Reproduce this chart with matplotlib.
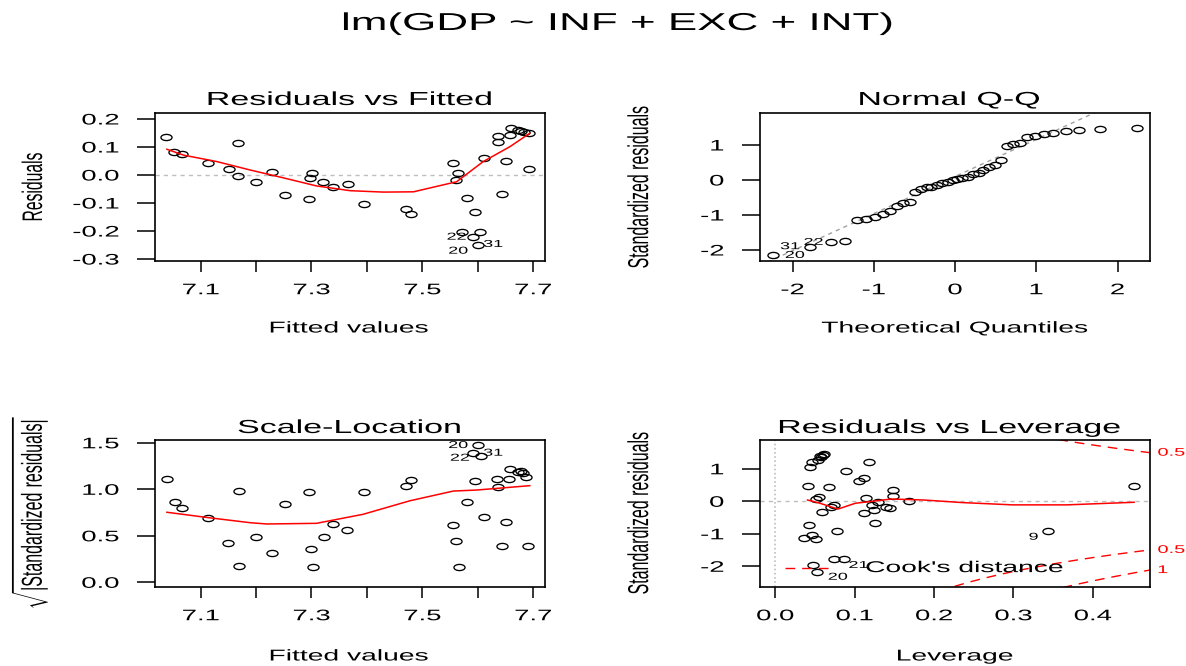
import numpy as np
import matplotlib
matplotlib.use("Agg")
import matplotlib.pyplot as plt
from matplotlib.patheffects import AbstractPathEffect
from matplotlib.transforms import Affine2D
from matplotlib.path import Path

# ---- data ----
# Residuals vs Fitted
fitted = [7.037, 7.052, 7.066, 7.114, 7.151, 7.168, 7.168, 7.200, 7.228, 7.252,
          7.295, 7.301, 7.298, 7.321, 7.338, 7.365, 7.395, 7.470, 7.480, 7.556,
          7.565, 7.561, 7.580, 7.596, 7.572, 7.592, 7.604, 7.600, 7.612, 7.636,
          7.636, 7.652, 7.644, 7.658, 7.660, 7.672, 7.678, 7.684, 7.693, 7.693]
resid = [0.137, 0.083, 0.074, 0.042, 0.020, 0.113, -0.002, -0.024, 0.011, -0.071,
         -0.086, 0.008, -0.011, -0.025, -0.042, -0.033, -0.102, -0.120, -0.138, 0.042,
         0.008, -0.019, -0.081, -0.133, -0.205, -0.223, -0.205, -0.251, 0.060, 0.140,
         0.119, 0.050, -0.069, 0.143, 0.167, 0.161, 0.158, 0.155, 0.151, 0.020]
smooth1_x = [7.039, 7.069, 7.129, 7.189, 7.249, 7.309, 7.370, 7.430, 7.484, 7.562,
             7.586, 7.610, 7.658, 7.694]
smooth1_y = [0.092, 0.071, 0.048, 0.018, -0.010, -0.039, -0.056, -0.061, -0.060, -0.024,
             0.012, 0.048, 0.101, 0.149]
ids1 = ["22", "20", "31"]
ids1_x = [7.562, 7.565, 7.628]
ids1_y = [-0.220, -0.270, -0.246]

# Normal Q-Q
theo = [-2.24, -1.78, -1.53, -1.36, -1.21, -1.09, -0.98, -0.89, -0.80, -0.71,
        -0.64, -0.56, -0.49, -0.42, -0.35, -0.29, -0.22, -0.16, -0.09, -0.03,
        0.03, 0.09, 0.16, 0.22, 0.29, 0.35, 0.42, 0.49, 0.56, 0.64,
        0.71, 0.80, 0.89, 0.98, 1.09, 1.21, 1.36, 1.53, 1.78, 2.24]
std_sorted = [-2.14, -1.91, -1.76, -1.75, -1.15, -1.12, -1.06, -0.98, -0.89, -0.74,
              -0.67, -0.62, -0.33, -0.27, -0.21, -0.19, -0.15, -0.10, -0.05, -0.01,
              0.02, 0.06, 0.09, 0.17, 0.19, 0.29, 0.36, 0.43, 0.57, 0.98,
              1.02, 1.07, 1.24, 1.26, 1.31, 1.35, 1.40, 1.43, 1.45, 1.48]
qq_intercept, qq_slope = 0.10, 1.06
ids2 = ["31", "22", "20"]
ids2_x = [-2.03, -1.74, -1.97]
ids2_y = [-1.89, -1.77, -2.14]

# Scale-Location
fitted3 = [7.040, 7.054, 7.066, 7.114, 7.149, 7.169, 7.169, 7.200, 7.229, 7.252,
           7.296, 7.299, 7.302, 7.323, 7.338, 7.364, 7.395, 7.470, 7.480, 7.556,
           7.560, 7.566, 7.581, 7.596, 7.601, 7.592, 7.606, 7.612, 7.634, 7.636,
           7.643, 7.652, 7.656, 7.658, 7.672, 7.679, 7.682, 7.688, 7.691]
sqrt_std = [1.111, 0.867, 0.795, 0.688, 0.426, 0.982, 0.179, 0.484, 0.312, 0.839,
            0.968, 0.355, 0.168, 0.490, 0.627, 0.562, 0.968, 1.035, 1.100, 0.616,
            0.444, 0.168, 0.867, 1.089, 1.476, 1.394, 1.358, 0.705, 1.111, 1.021,
            0.390, 0.652, 1.107, 1.218, 1.183, 1.200, 1.172, 1.136, 0.390]
smooth3_x = [7.039, 7.114, 7.189, 7.219, 7.309, 7.393, 7.478, 7.556, 7.598, 7.694]
smooth3_y = [0.753, 0.695, 0.641, 0.627, 0.634, 0.731, 0.877, 0.981, 0.992, 1.039]
ids3 = ["20", "22", "31"]
ids3_x = [7.565, 7.568, 7.628]
ids3_y = [1.476, 1.340, 1.394]

# Residuals vs Leverage
lev = [0.041, 0.043, 0.036, 0.047, 0.051, 0.044, 0.047, 0.054, 0.056, 0.058,
       0.060, 0.061, 0.051, 0.055, 0.068, 0.059, 0.070, 0.074, 0.078, 0.089,
       0.106, 0.112, 0.118, 0.115, 0.112, 0.122, 0.124, 0.126, 0.129, 0.140,
       0.144, 0.148, 0.149, 0.168, 0.344, 0.452, 0.0475, 0.053, 0.0735, 0.087]
std4 = [0.47, -0.73, -1.14, -1.04, -1.17, 1.065, 1.22, 1.27, 1.40, 1.36,
        1.43, 1.45, 0.06, 0.14, 0.43, -0.32, -0.185, -0.11, -0.91, 0.94,
        0.63, 0.73, 1.22, 0.09, -0.35, -0.11, -0.27, -0.66, -0.01, -0.185,
        -0.215, 0.16, 0.35, 0.02, -0.91, 0.47, -1.96, -2.17, -1.78, -1.78]
smooth4_x = [0.0407, 0.0564, 0.079, 0.101, 0.119, 0.146, 0.187, 0.236, 0.299, 0.367, 0.452]
smooth4_y = [0.04, -0.06, -0.24, -0.06, -0.01, 0.07, 0.04, -0.04, -0.11, -0.11, -0.03]
ids4 = ["9", "20", "21"]
ids4_x = [0.3254, 0.079, 0.105]
ids4_y = [-1.09, -2.32, -1.96]
n_coef = 4
cook_levels = [0.5, 1]

# ---- styling ----
W, H = 1186, 666
SX = 1.8  # the reference image is stretched sideways
plt.rcParams['font.family'] = ['Liberation Sans', 'DejaVu Sans']
plt.rcParams['mathtext.fontset'] = 'custom'
plt.rcParams['mathtext.rm'] = 'Liberation Sans'


class Stretch(AbstractPathEffect):
    def __init__(self, sx, anchor='center'):
        super().__init__()
        self.sx = sx
        self.anchor = anchor

    def draw_path(self, renderer, gc, tpath, affine, rgbFace=None):
        bb = tpath.get_extents(affine)
        if self.anchor == 'left':
            x0 = bb.x0
        elif self.anchor == 'right':
            x0 = bb.x1
        else:
            x0 = 0.5 * (bb.x0 + bb.x1)
        tr = affine + Affine2D().translate(-x0, 0).scale(self.sx, 1).translate(x0, 0)
        renderer.draw_path(gc, tpath, tr, rgbFace)


def st(anchor='center'):
    return [Stretch(SX, anchor)]


circ = Path.unit_circle()
ell = Path(circ.vertices * np.array([SX, 1.0]), circ.codes)

fig = plt.figure(figsize=(W / 100, H / 100), dpi=100)


def box(l, t, r, b):
    return fig.add_axes([l / W, 1 - b / H, (r - l) / W, (b - t) / H])


def ftext(x, y, s, size, anchor='center', **kw):
    fig.text(x / W, 1 - y / H, s, fontsize=size, path_effects=st(anchor), **kw)


def style(ax, xt, xl, yt, yl):
    ax.set_xticks(xt, xl)
    ax.set_yticks(yt, yl)
    ax.tick_params(axis='y', length=13, width=1.1, pad=13, labelsize=11)
    ax.tick_params(axis='x', length=8, width=1.1, pad=8, labelsize=11)
    for s in ax.spines.values():
        s.set_linewidth(1.2)
    for t in ax.get_xticklabels():
        t.set_path_effects(st('center'))
    for t in ax.get_yticklabels():
        t.set_path_effects(st('right'))


def pts(ax, x, y):
    ax.plot(x, y, linestyle='none', marker=ell, markersize=8.0,
            markerfacecolor='none', markeredgecolor='black', markeredgewidth=0.95)


def ids(ax, labs, x, y):
    for s, a, b in zip(labs, x, y):
        ax.text(a, b, s, fontsize=7.2, ha='center', va='center', path_effects=st())


ax1 = box(155, 113, 545, 261)
ax2 = box(760, 113, 1150, 261)
ax3 = box(155, 440, 545, 587)
ax4 = box(760, 440, 1150, 587)

# Residuals vs Fitted
ax1.axhline(0, color='#BEBEBE', lw=1, dashes=(3, 3))
pts(ax1, fitted, resid)
ax1.plot(smooth1_x, smooth1_y, color='red', lw=1.1)
ids(ax1, ids1, ids1_x, ids1_y)
ax1.set_xlim(7.0175, 7.7215)
ax1.set_ylim(-0.307, 0.2214)
style(ax1, [7.1, 7.2, 7.3, 7.4, 7.5, 7.6, 7.7], ['7.1', '', '7.3', '', '7.5', '', '7.7'],
      [-0.3, -0.2, -0.1, 0.0, 0.1, 0.2], ['-0.3', '-0.2', '-0.1', '0.0', '0.1', '0.2'])

# Normal Q-Q
xx = np.array([-2.4, 2.4])
ax2.plot(xx, qq_intercept + qq_slope * xx, color='#A0A0A0', lw=1, dashes=(3, 3))
pts(ax2, theo, std_sorted)
ids(ax2, ids2, ids2_x, ids2_y)
ax2.set_xlim(-2.40, 2.40)
ax2.set_ylim(-2.314, 1.914)
style(ax2, [-2, -1, 0, 1, 2], ['-2', '-1', '0', '1', '2'],
      [-2, -1, 0, 1], ['-2', '-1', '0', '1'])

# Scale-Location
pts(ax3, fitted3, sqrt_std)
ax3.plot(smooth3_x, smooth3_y, color='red', lw=1.1)
ids(ax3, ids3, ids3_x, ids3_y)
ax3.set_xlim(7.0175, 7.7215)
ax3.set_ylim(-0.0505, 1.530)
style(ax3, [7.1, 7.2, 7.3, 7.4, 7.5, 7.6, 7.7], ['7.1', '', '7.3', '', '7.5', '', '7.7'],
      [0.0, 0.5, 1.0, 1.5], ['0.0', '0.5', '1.0', '1.5'])

# Residuals vs Leverage
xl4 = (-0.0191, 0.4720)
ax4.axhline(0, color='#BEBEBE', lw=1, dashes=(3, 3))
ax4.axvline(0, color='#BEBEBE', lw=1.2, dashes=(1, 1.5))
hh = np.linspace(0.002, xl4[1], 200)
for lvl in cook_levels:
    cy = np.sqrt(lvl * n_coef * (1 - hh) / hh)
    ax4.plot(hh, cy, color='red', lw=1, dashes=(7, 5))
    ax4.plot(hh, -cy, color='red', lw=1, dashes=(7, 5))
    yr = np.sqrt(lvl * n_coef * (1 - xl4[1]) / xl4[1])
    for v in (yr, -yr):
        if -2.637 < v < 1.886:
            ax4.text(1.02, v, f"{lvl:g}", color='red', fontsize=8, ha='left', va='center',
                     transform=ax4.get_yaxis_transform(), clip_on=False,
                     path_effects=st('left'))
pts(ax4, lev, std4)
ax4.plot(smooth4_x, smooth4_y, color='red', lw=1.1)
ids(ax4, ids4, ids4_x, ids4_y)
ax4.plot([0.012, 0.072], [-2.04, -2.04], color='red', lw=1, dashes=(7, 5))
ax4.text(0.114, -2.04, "Cook's distance", fontsize=11.3, ha='left', va='center',
         path_effects=st('left'))
ax4.set_xlim(*xl4)
ax4.set_ylim(-2.637, 1.886)
style(ax4, [0.0, 0.1, 0.2, 0.3, 0.4], ['0.0', '0.1', '0.2', '0.3', '0.4'],
      [-2, -1, 0, 1], ['-2', '-1', '0', '1'])

# titles and axis labels
ftext(617, 30, "lm(GDP ~ INF + EXC + INT)", 17.6, ha='center', va='baseline')
ftext(349, 105, "Residuals vs Fitted", 13.6, ha='center', va='baseline')
ftext(949, 105, "Normal Q-Q", 13.6, ha='center', va='baseline')
ftext(349, 433, "Scale-Location", 13.6, ha='center', va='baseline')
ftext(949, 433, "Residuals vs Leverage", 13.6, ha='center', va='baseline')

ftext(349, 328, "Fitted values", 11.3, ha='center', va='center')
ftext(955, 328, "Theoretical Quantiles", 11.3, ha='center', va='center')
ftext(349, 656, "Fitted values", 11.3, ha='center', va='center')
ftext(955, 656, "Leverage", 11.3, ha='center', va='center')

ftext(33, 187, "Residuals", 11.3, ha='center', va='center', rotation=90)
ftext(639, 187, "Standardized residuals", 11.5, ha='center', va='center', rotation=90)
ftext(30, 513, r"$\sqrt{|\mathrm{Standardized\ residuals}|}$", 11.5,
      ha='center', va='center', rotation=90)
ftext(639, 513, "Standardized residuals", 11.5, ha='center', va='center', rotation=90)

fig.savefig("out.png", dpi=100)
